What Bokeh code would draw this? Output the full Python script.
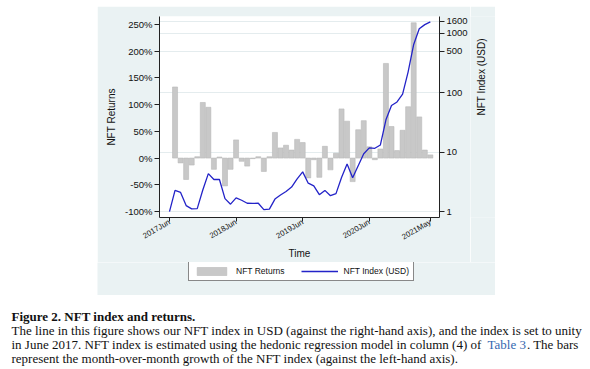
import math
from bokeh.plotting import figure
from bokeh.models import (Range1d, LinearAxis, LinearScale, FixedTicker,
                          PrintfTickFormatter, NumeralTickFormatter, Legend,
                          LegendItem, Label, Spacer)
from bokeh.layouts import column, row
from bokeh.embed import file_html
from bokeh.resources import INLINE

# ---------------- data ----------------
months = [
    "2017-06", "2017-07", "2017-08", "2017-09", "2017-10", "2017-11", "2017-12",
    "2018-01", "2018-02", "2018-03", "2018-04", "2018-05", "2018-06", "2018-07",
    "2018-08", "2018-09", "2018-10", "2018-11", "2018-12", "2019-01", "2019-02",
    "2019-03", "2019-04", "2019-05", "2019-06", "2019-07", "2019-08", "2019-09",
    "2019-10", "2019-11", "2019-12", "2020-01", "2020-02", "2020-03", "2020-04",
    "2020-05", "2020-06", "2020-07", "2020-08", "2020-09", "2020-10", "2020-11",
    "2020-12", "2021-01", "2021-02", "2021-03", "2021-04", "2021-05",
]
# month-over-month growth (%) from 2017-07 onward
returns_pct = [
    133, -9, -40, -13, 2.5, 104, 95, -21, 2, -52, -21, 34,
    -6, -15, -1, 2.5, -25, 2.5, 48, 19, 24, 15, 35, 29,
    -37, -3, -36, 22, -22, 9, 92, 69, -44, 53, 70, 21,
    -3, 17, 177, 59, 14, 52, 96, 253, 77, 15, 6,
]
# NFT index (USD), June 2017 = 1
index_usd = [
    1.0, 2.27, 2.1, 1.26, 1.11, 1.12, 2.3, 4.35, 3.46, 3.46, 1.65, 1.33,
    1.70, 1.55, 1.38, 1.37, 1.38, 1.08, 1.10, 1.62, 1.90, 2.18, 2.58, 3.55,
    4.65, 3.0, 2.7, 1.92, 2.27, 1.85, 2.0, 3.75, 6.3, 3.7, 5.9, 9.4,
    11.8, 11.6, 13.2, 35, 61, 70, 95, 225, 650, 1190, 1400, 1560,
]
x_tick_months = ["2017-06", "2018-06", "2019-06", "2020-06", "2021-05"]
x_tick_labels = ["2017Jun", "2018Jun", "2019Jun", "2020Jun", "2021May"]
ret_ticks = [-100, -50, 0, 50, 100, 150, 200, 250]
idx_ticks = [1, 10, 100, 500, 1000, 1600]

caption_title = "Figure 2. NFT index and returns."
caption_l1 = ("The line in this figure shows our NFT index in USD (against the right-hand axis), "
              "and the index is set to unity")
caption_l2a = "in June 2017. NFT index is estimated using the hedonic regression model in column (4) of"
caption_l2b = "Table 3"
caption_l2c = ". The bars"
caption_l3 = "represent the month-over-month growth of the NFT index (against the left-hand axis)."

# ---------------- styling ----------------
FONT = "Liberation Sans"
SERIF = "Liberation Serif"
PANEL = "#eaf2f3"
INK = "#111111"
BAR_FILL = "#c8c8c8"
BAR_LINE = "#b9b9b9"
LINE_COL = "#2323c8"

# ---------------- chart ----------------
xpos = list(range(len(months)))
bar_x = xpos[1:]

P_W, P_H = 373, 256
p = figure(width=P_W, height=P_H, y_axis_type="log", y_axis_location="right",
           x_range=Range1d(-1.8, 48.65), y_range=Range1d(0.794, 1919),
           output_backend="svg", toolbar_location=None,
           min_border_left=62, min_border_right=31, min_border_top=10,
           min_border_bottom=43)
p.border_fill_color = PANEL
p.background_fill_color = "white"
p.outline_line_color = None
p.extra_y_ranges = {"ret": Range1d(-111.1, 264.8)}
p.extra_y_scales = {"ret": LinearScale()}

bars = p.vbar(x=bar_x, top=returns_pct, bottom=0, width=0.9, y_range_name="ret",
              fill_color=BAR_FILL, line_color=BAR_LINE, line_width=0.6)
line = p.line(x=xpos, y=index_usd, line_color=LINE_COL, line_width=1.3)

# right (log) axis
idx_ticker = FixedTicker(ticks=idx_ticks, minor_ticks=[])
ax_r = p.yaxis[0]
ax_r.ticker = idx_ticker
ax_r.formatter = NumeralTickFormatter(format="0")
p.ygrid.ticker = idx_ticker
p.ygrid.grid_line_color = "#e4ecee"
p.xgrid.visible = False

# left (returns) axis
ax_l = LinearAxis(y_range_name="ret", axis_label="NFT Returns",
                  ticker=FixedTicker(ticks=ret_ticks, minor_ticks=[]),
                  formatter=PrintfTickFormatter(format="%d%%"))
p.add_layout(ax_l, "left")

# x axis
ax_x = p.xaxis[0]
tick_pos = [months.index(m) for m in x_tick_months]
ax_x.ticker = FixedTicker(ticks=tick_pos, minor_ticks=[])
ax_x.major_label_overrides = {pos: lab for pos, lab in zip(tick_pos, x_tick_labels)}
ax_x.major_label_orientation = math.pi / 6
ax_x.axis_label = "Time"

for ax in (ax_r, ax_l, ax_x):
    ax.axis_line_color = "#222222"
    ax.major_tick_line_color = "#222222"
    ax.major_tick_out = 5
    ax.major_tick_in = 0
    ax.minor_tick_out = 0
    ax.minor_tick_in = 0
    ax.major_label_text_font = FONT
    ax.major_label_text_color = INK
    ax.axis_label_text_font = FONT
    ax.axis_label_text_font_style = "normal"
    ax.axis_label_text_color = INK
    ax.axis_label_text_font_size = "10px"
    ax.major_label_standoff = 2
ax_l.major_label_text_font_size = "9.5px"
ax_r.major_label_text_font_size = "9.5px"
ax_x.major_label_text_font_size = "7.8px"
ax_x.major_tick_out = 4
ax_x.major_label_standoff = 0
ax_l.axis_label_standoff = 5
ax_x.axis_label_standoff = 0

# right-hand axis title strip
T_W = 25
tf = figure(width=T_W, height=P_H, x_range=Range1d(0, T_W), y_range=Range1d(0, P_H),
            x_axis_type=None, y_axis_type=None, output_backend="svg",
            toolbar_location=None, min_border=0)
tf.grid.visible = False
tf.outline_line_color = None
tf.border_fill_color = PANEL
tf.background_fill_color = PANEL
tf.add_layout(Label(x=11, y=P_H - 77, text="NFT Index (USD)", angle=math.pi / 2,
                    text_align="center", text_baseline="middle",
                    text_font=FONT, text_font_size="10px", text_color=INK))

# legend strip (key renderers sit outside the strip's visible range)
L_W, L_H = P_W + T_W, 33
lf = figure(width=L_W, height=L_H, x_range=Range1d(0, 1), y_range=Range1d(0, 1),
            x_axis_type=None, y_axis_type=None, output_backend="svg",
            toolbar_location=None, min_border=0)
lf.grid.visible = False
lf.outline_line_color = None
lf.border_fill_color = PANEL
lf.background_fill_color = PANEL
key_bar = lf.vbar(x=[5], top=[5], bottom=[4], width=1, fill_color=BAR_FILL,
                  line_color=BAR_LINE, line_width=0.6)
key_line = lf.line(x=[5, 6], y=[5, 5], line_color=LINE_COL, line_width=1.3)
legend = Legend(items=[LegendItem(label="NFT Returns", renderers=[key_bar]),
                       LegendItem(label="NFT Index (USD)", renderers=[key_line])],
                orientation="horizontal", location=(91, 14),
                glyph_width=37, glyph_height=10, label_height=10,
                label_standoff=6, spacing=16, padding=4, margin=0,
                label_text_font=FONT, label_text_font_size="8.5px",
                label_text_color=INK,
                border_line_color=INK, border_line_width=1,
                background_fill_color="white", background_fill_alpha=1)
lf.add_layout(legend)

# ---------------- caption ----------------
CAP_H = 74
cap = figure(width=590, height=CAP_H, x_range=Range1d(0, 590), y_range=Range1d(CAP_H, 0),
             x_axis_type=None, y_axis_type=None, output_backend="svg",
             toolbar_location=None, min_border=0)
cap.grid.visible = False
cap.outline_line_color = None
cap.border_fill_color = "white"
cap.background_fill_color = "white"

def cap_label(x, y, txt, bold=False, color=INK):
    cap.add_layout(Label(x=x, y=y, text=txt, text_font=SERIF, text_font_size="13px",
                         text_font_style="bold" if bold else "normal",
                         text_color=color, text_align="left",
                         text_baseline="alphabetic"))

cap_label(11, 20.5, caption_title, bold=True)
cap_label(11, 35, caption_l1)
cap_label(11, 49, caption_l2a)
cap_label(487, 49, caption_l2b, color="#3468b0")
cap_label(526.4, 49, caption_l2c)
cap_label(11, 63, caption_l3)

panel = column(row(p, tf), lf)
layout = column(Spacer(width=590, height=6),
                row(Spacer(width=97, height=P_H + L_H), panel),
                cap)
open("out.html", "w").write(file_html(layout, INLINE))
